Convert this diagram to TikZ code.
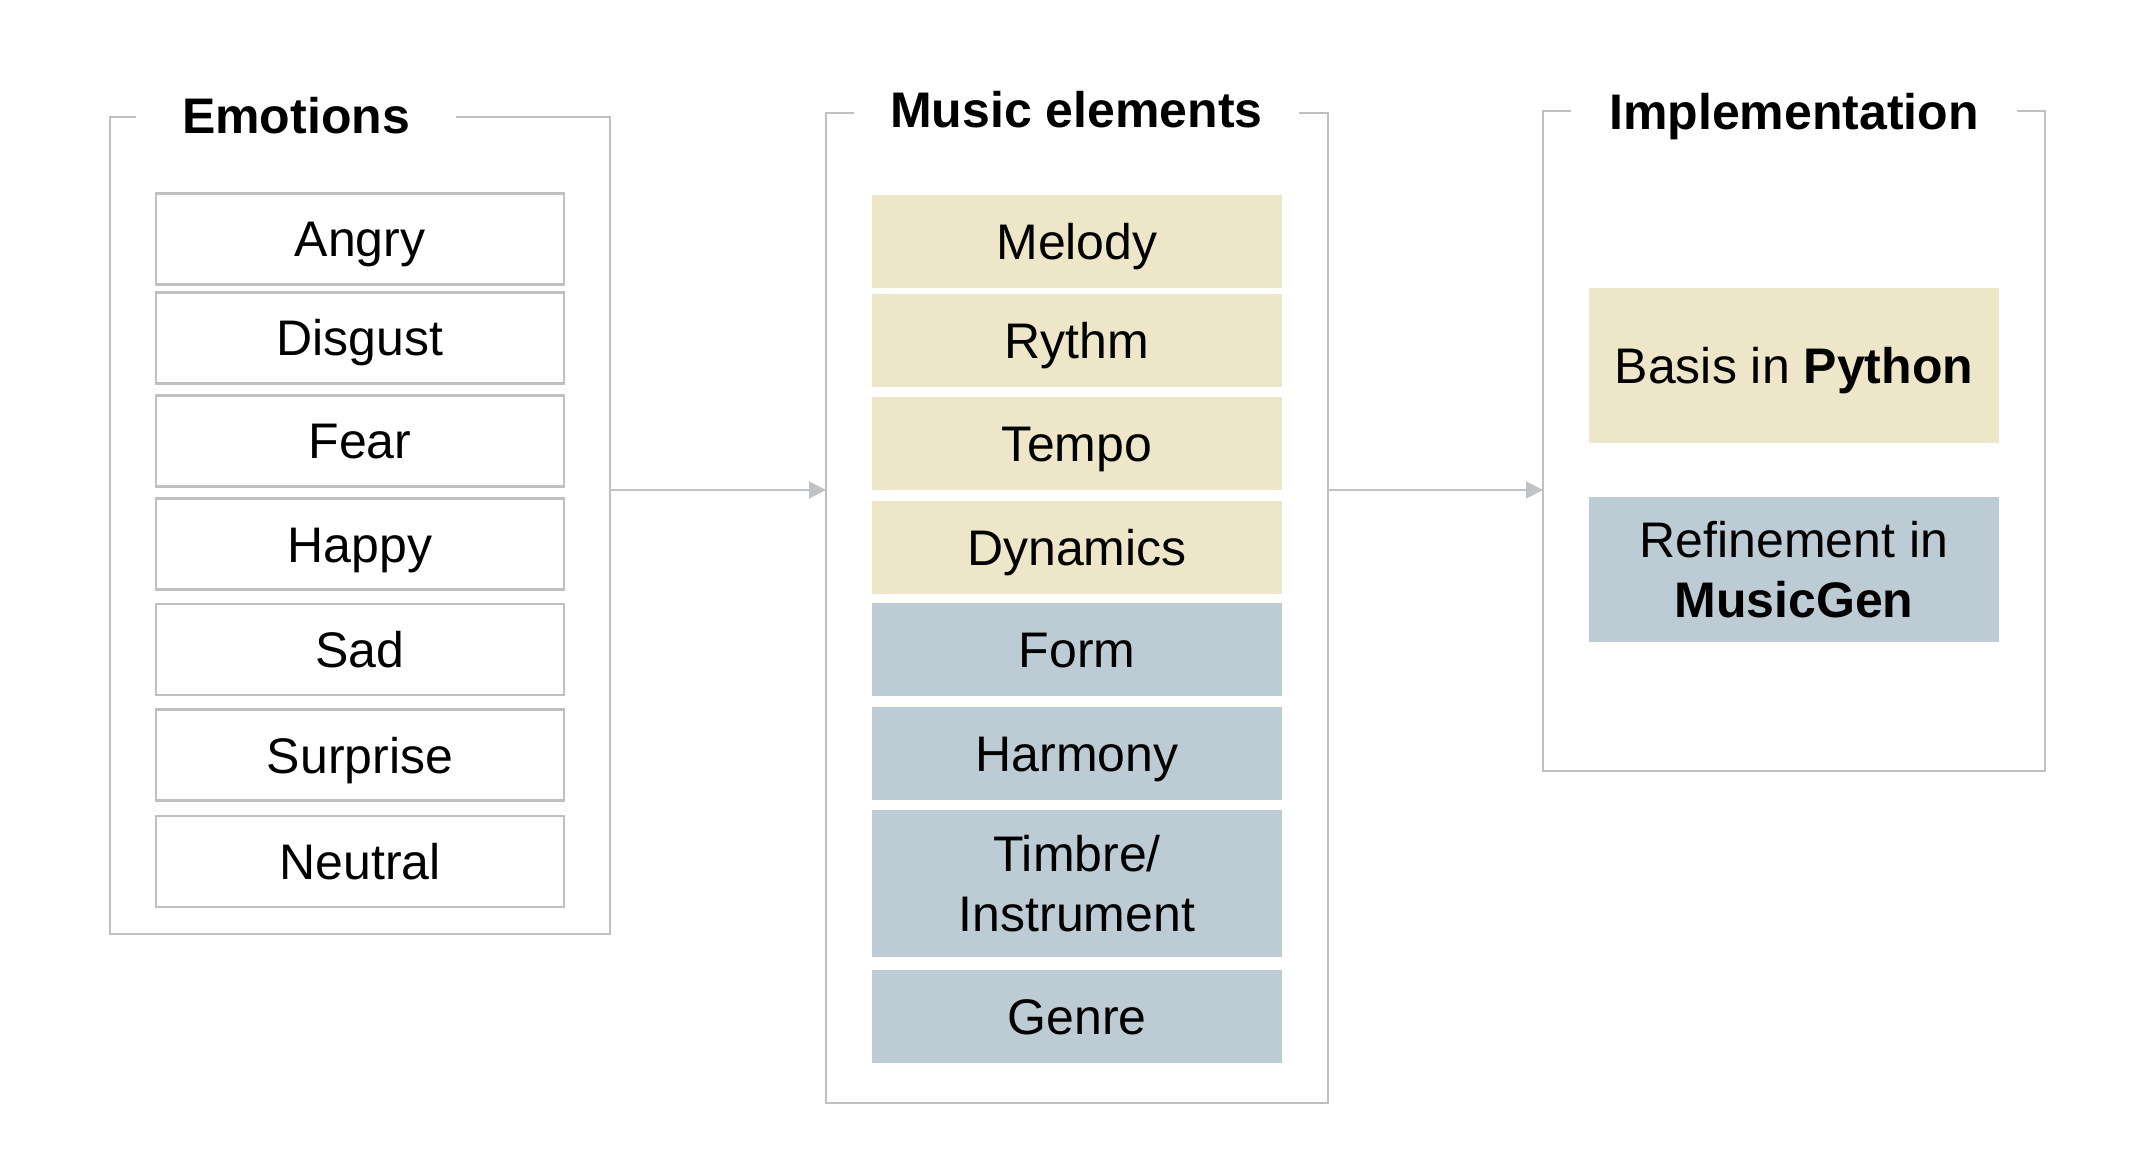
\documentclass[tikz,border=0pt]{standalone}
\usepackage{fontspec}
\setmainfont{Liberation Sans}
\usetikzlibrary{arrows.meta}
\definecolor{beige}{HTML}{EDE6C8}
\definecolor{slate}{HTML}{BDCBD4}
\definecolor{lgray}{HTML}{C0C0C0}
\definecolor{agray}{HTML}{BFC3C5}
\begin{document}
\begin{tikzpicture}[x=0.5pt,y=-0.5pt,
  every node/.style={font=\fontsize{25pt}{30pt}\selectfont, inner sep=0pt, outer sep=0pt},
  frame/.style={draw=none},
  framepath/.style={draw=lgray, line width=1.35pt},
  ttl/.style={font=\fontsize{25pt}{30pt}\selectfont\bfseries, anchor=base, inner xsep=19pt},
  ebox/.style={draw=lgray, line width=1.3pt, fill=white, minimum width=204pt, minimum height=45.5pt, text height=18pt, text depth=0pt},
  mbox/.style={minimum width=205pt, minimum height=46.5pt, text height=18pt, text depth=0pt},
  warm/.style={mbox, fill=beige},
  cool/.style={mbox, fill=slate},
  twoline/.style={align=center, text height=, text depth=},
  arr/.style={draw=agray, line width=1pt, -{Triangle[length=8.5pt,width=8.5pt]}}
]
\useasboundingbox (0,0) rectangle (2140,1170);

% frames (invisible nodes giving the geometry)
\node[frame, minimum width=250pt, minimum height=408.5pt] (f1) at (360,525.5) {};
\node[frame, minimum width=251pt, minimum height=495pt] (f2) at (1077,608) {};
\node[frame, minimum width=251pt, minimum height=330pt] (f3) at (1794,441) {};

% titles
\node[ttl, inner xsep=23pt] (t1) at (296,134) {Emotions};
\node[ttl, inner xsep=18pt] (t2) at (1076.5,128) {Music elements};
\node[ttl, inner xsep=19pt] (t3) at (1794,130) {Implementation};

\draw[framepath] (t1.west |- f1.north) -- (f1.north west) -- (f1.south west) -- (f1.south east) -- (f1.north east) -- (t1.east |- f1.north);
\draw[framepath] (t2.west |- f2.north) -- (f2.north west) -- (f2.south west) -- (f2.south east) -- (f2.north east) -- (t2.east |- f2.north);
\draw[framepath] (t3.west |- f3.north) -- (f3.north west) -- (f3.south west) -- (f3.south east) -- (f3.north east) -- (t3.east |- f3.north);

% emotions
\node[ebox] (angry) at (360,239) {Angry};
\node[ebox] (disgust) at (360,338) {Disgust};
\node[ebox] (fear) at (360,441) {Fear};
\node[ebox] (happy) at (360,544) {Happy};
\node[ebox] (sad) at (360,649.5) {Sad};
\node[ebox] (surprise) at (360,755) {Surprise};
\node[ebox] (neutral) at (360,861.5) {Neutral};

% music elements
\node[warm] (melody) at (1077,241.5) {Melody};
\node[warm] (rythm) at (1077,341) {Rythm};
\node[warm] (tempo) at (1077,444) {Tempo};
\node[warm] (dynamics) at (1077,547.5) {Dynamics};
\node[cool] (form) at (1077,649.5) {Form};
\node[cool] (harmony) at (1077,753.5) {Harmony};
\node[cool, twoline, minimum height=73.5pt] (timbre) at (1077,883.5) {Timbre/\\Instrument};
\node[cool] (genre) at (1077,1016.5) {Genre};

% implementation
\node[warm, minimum width=205pt, minimum height=77.5pt] (basis) at (1794,365.5) {Basis in \textbf{Python}};
\node[cool, twoline, minimum width=205pt, minimum height=72.5pt] (refine) at (1794,569.5) {Refinement in\\\textbf{MusicGen}};

% connectors
\coordinate (a1) at (610,490);
\coordinate (a2) at (1328,490);
\draw[arr] (a1) -- (a1 -| f2.west);
\draw[arr] (a2) -- (a2 -| f3.west);
\end{tikzpicture}
\end{document}
